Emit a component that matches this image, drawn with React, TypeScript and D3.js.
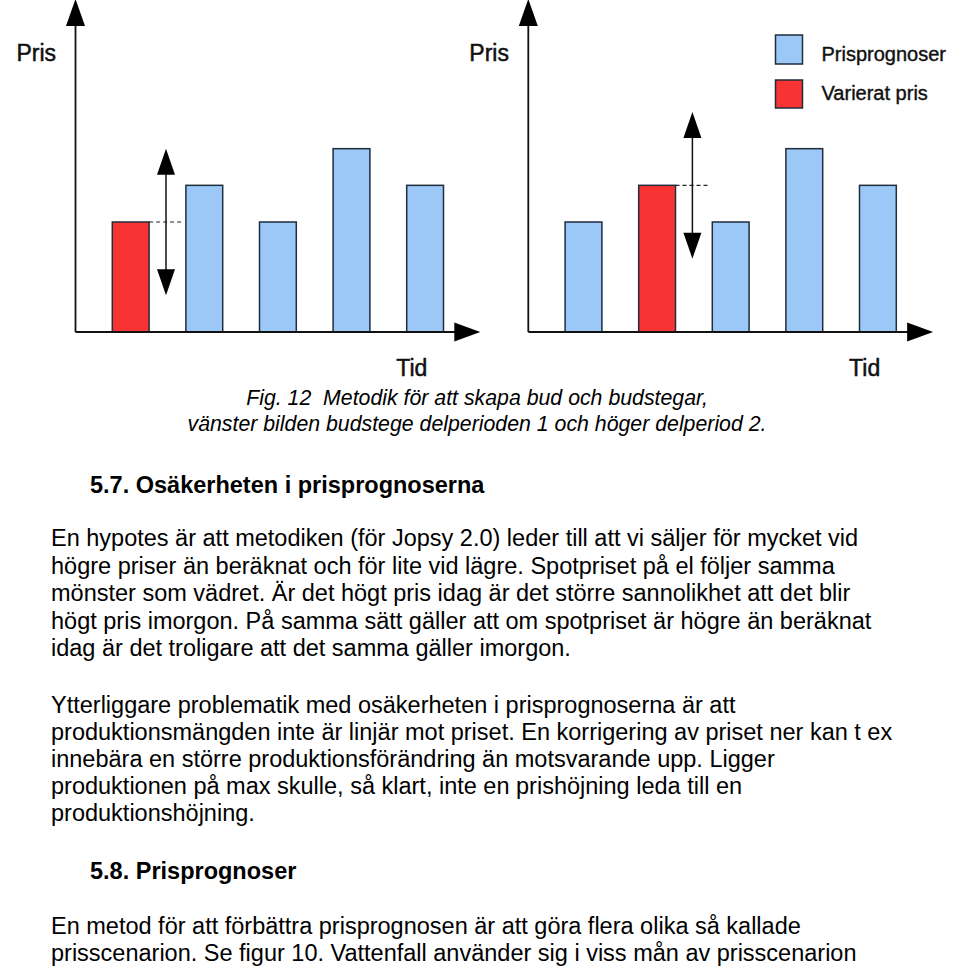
import React from "react";
import * as d3 from "d3";

// ---------- data ----------
const periods = ["p1", "p2", "p3", "p4", "p5"];
const leftValues = [3, 4, 3, 5, 4];
const rightValues = [3, 4, 3, 5, 4];
const leftVariedIndex = 0;
const rightVariedIndex = 1;
const variationRange = 2;
const yMax = 9;
const axisLabelY = "Pris";
const axisLabelX = "Tid";
const legendLabels = ["Prisprognoser", "Varierat pris"];

const captionLines = [
  "Fig. 12  Metodik för att skapa bud och budstegar,",
  "vänster bilden budstege delperioden 1 och höger delperiod 2.",
];
const heading1 = "5.7. Osäkerheten i prisprognoserna";
const paragraph1 = [
  "En hypotes är att metodiken (för Jopsy 2.0) leder till att vi säljer för mycket vid",
  "högre priser än beräknat och för lite vid lägre. Spotpriset på el följer samma",
  "mönster som vädret. Är det högt pris idag är det större sannolikhet att det blir",
  "högt pris imorgon. På samma sätt gäller att om spotpriset är högre än beräknat",
  "idag är det troligare att det samma gäller imorgon.",
];
const paragraph2 = [
  "Ytterliggare problematik med osäkerheten i prisprognoserna är att",
  "produktionsmängden inte är linjär mot priset. En korrigering av priset ner kan t ex",
  "innebära en större produktionsförändring än motsvarande upp. Ligger",
  "produktionen på max skulle, så klart, inte en prishöjning leda till en",
  "produktionshöjning.",
];
const heading2 = "5.8. Prisprognoser";
const paragraph3 = [
  "En metod för att förbättra prisprognosen är att göra flera olika så kallade",
  "prisscenarion. Se figur 10. Vattenfall använder sig i viss mån av prisscenarion",
];

// ---------- styles ----------
const BLUE = "#9bc8f6";
const RED = "#f83333";
const BAR_STROKE = "#1f2d3d";
const FONT = "'Liberation Sans', Arial, Helvetica, sans-serif";

const Y0 = 332;
const yScale = d3.scaleLinear().domain([0, yMax]).range([Y0, 2]);

function Chart({ originX, values, varied }: { originX: number; values: number[]; varied: number }) {
  const x = d3
    .scaleBand<string>()
    .domain(periods)
    .range([originX, originX + 404.8])
    .paddingInner(0.5)
    .paddingOuter(0.5);
  const bw = x.bandwidth();
  const vx = x(periods[varied])! + bw;
  const nx = x(periods[varied + 1])!;
  const ax = (vx + nx) / 2 - 1.5;
  const vTop = yScale(values[varied]);
  const aTop = yScale(values[varied] + variationRange);
  const aBot = yScale(values[varied] - variationRange);
  const xEnd = originX + 404.8;
  return (
    <g>
      {values.map((v, i) => (
        <rect
          key={i}
          x={x(periods[i])}
          y={yScale(v)}
          width={bw}
          height={Y0 - yScale(v)}
          fill={i === varied ? RED : BLUE}
          stroke={BAR_STROKE}
          strokeWidth={1.5}
        />
      ))}
      {/* axes */}
      <line x1={originX} y1={Y0} x2={originX} y2={20} stroke="#111" strokeWidth={1.8} />
      <path d={`M${originX},-1 L${originX - 9.5},26 L${originX + 9.5},26 Z`} fill="#000" />
      <line x1={originX} y1={Y0} x2={xEnd - 20} y2={Y0} stroke="#111" strokeWidth={1.8} />
      <path d={`M${xEnd},${Y0} L${xEnd - 26},${Y0 - 9.5} L${xEnd - 26},${Y0 + 9.5} Z`} fill="#000" />
      {/* variation arrow */}
      <line x1={vx} y1={vTop} x2={ax + 16} y2={vTop} stroke="#222" strokeWidth={1.2} strokeDasharray="4,3" />
      <line x1={ax} y1={aTop + 20} x2={ax} y2={aBot - 20} stroke="#111" strokeWidth={1.5} />
      <path d={`M${ax},${aTop} L${ax - 9},${aTop + 26} L${ax + 9},${aTop + 26} Z`} fill="#000" />
      <path d={`M${ax},${aBot} L${ax - 9},${aBot - 26} L${ax + 9},${aBot - 26} Z`} fill="#000" />
      {/* labels */}
      <text x={originX - 59} y={61} fontFamily={FONT} fontSize={23} fill="#111" stroke="#111" strokeWidth={0.5}>
        {axisLabelY}
      </text>
      <text x={xEnd - 84} y={376} fontFamily={FONT} fontSize={23} fill="#111" stroke="#111" strokeWidth={0.5}>
        {axisLabelX}
      </text>
    </g>
  );
}

function Lines({ lines, x, y0, step, size, weight = "normal", style = "normal", anchor = "start" }: any) {
  return (
    <g>
      {lines.map((t: string, i: number) => (
        <text
          key={i}
          x={x}
          y={y0 + i * step}
          fontFamily={FONT}
          fontSize={size}
          fontWeight={weight}
          fontStyle={style}
          textAnchor={anchor}
          fill="#000"
          style={{ whiteSpace: "pre" }}
        >
          {t}
        </text>
      ))}
    </g>
  );
}

export default function App() {
  return (
    <div style={{ position: "absolute", left: 0, top: 0 }}>
      <svg width={960} height={967} style={{ display: "block", background: "#fff" }}>
        <rect width={960} height={967} fill="#fff" />
        <Chart originX={75.5} values={leftValues} varied={leftVariedIndex} />
        <Chart originX={528.3} values={rightValues} varied={rightVariedIndex} />
        {/* legend */}
        <rect x={775.5} y={35} width={27} height={29} fill={BLUE} stroke={BAR_STROKE} strokeWidth={1.5} />
        <rect x={775.5} y={80} width={27} height={28} fill={RED} stroke={BAR_STROKE} strokeWidth={1.5} />
        <text x={821.5} y={61} fontFamily={FONT} fontSize={20} fill="#111" stroke="#111" strokeWidth={0.4}>
          {legendLabels[0]}
        </text>
        <text x={821.5} y={100} fontFamily={FONT} fontSize={20} fill="#111" stroke="#111" strokeWidth={0.4}>
          {legendLabels[1]}
        </text>

        <Lines lines={captionLines} x={477} y0={405} step={26} size={21.3} style="italic" anchor="middle" />
        <Lines lines={[heading1]} x={90} y0={493} step={0} size={23.5} weight="bold" />
        <Lines lines={paragraph1} x={51} y0={546} step={27.5} size={23.5} />
        <Lines lines={paragraph2} x={51} y0={713} step={27} size={23.5} />
        <Lines lines={[heading2]} x={90} y0={879} step={0} size={23.5} weight="bold" />
        <Lines lines={paragraph3} x={51} y0={934} step={26.5} size={23.5} />
      </svg>
    </div>
  );
}
